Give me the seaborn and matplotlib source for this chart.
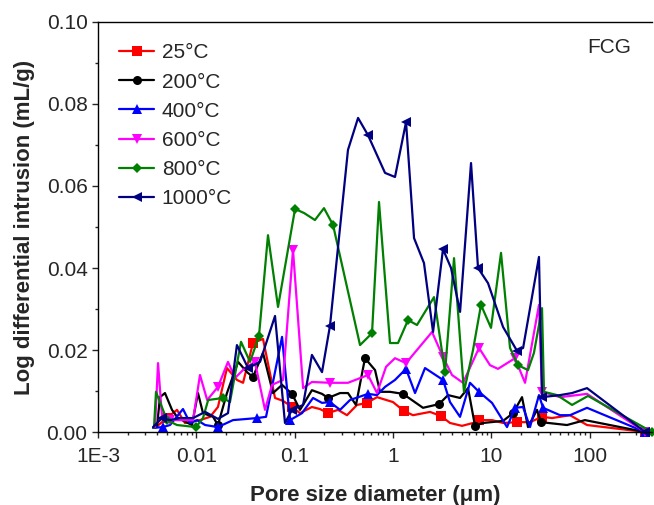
import matplotlib
matplotlib.use("Agg")
import matplotlib.pyplot as plt
import matplotlib.ticker as mticker
from matplotlib.lines import Line2D
import seaborn as sns

# Pore diameter (µm) and log differential intrusion (mL/g) for each firing temperature
d_25 = [0.0038, 0.00503, 0.00636, 0.00767, 0.0109, 0.0138, 0.0166, 0.0205, 0.0259, 0.0299,
        0.0377, 0.0477, 0.0632, 0.0762, 0.0941, 0.1135, 0.150, 0.181, 0.219, 0.276,
        0.341, 0.431, 0.545, 0.689, 1.002, 1.297, 1.601, 2.385, 3.084, 3.81,
        5.045, 6.53, 7.515, 10.19, 13.19, 18.3, 24.8, 32.87, 41.5, 63.3, 94.3, 367]
v_25 = [0.0010, 0.0034, 0.0054, 0.0022, 0.0029, 0.0037, 0.0061, 0.0156, 0.0127, 0.0120,
        0.0217, 0.0227, 0.0083, 0.0076, 0.0061, 0.0046, 0.0061, 0.0056, 0.0046, 0.0054,
        0.0041, 0.0066, 0.0071, 0.0085, 0.0073, 0.0051, 0.0041, 0.0049, 0.0039, 0.0022,
        0.0015, 0.0022, 0.0029, 0.0029, 0.0022, 0.0024, 0.0024, 0.0037, 0.0034, 0.0041, 0.0017, 0.0]

d_200 = [0.00398, 0.00427, 0.0048, 0.00566, 0.00651, 0.00904, 0.0104, 0.0117, 0.0148, 0.0166,
         0.0205, 0.0266, 0.0328, 0.0377, 0.0477, 0.0603, 0.0745, 0.0941, 0.1135, 0.150,
         0.190, 0.219, 0.290, 0.349, 0.421, 0.52, 0.658, 0.739, 0.934, 1.267,
         2.023, 2.944, 3.635, 4.815, 5.807, 6.84, 8.25, 13.19, 16.67, 20.57,
         23.67, 29.24, 32.1, 59.0, 89.9, 367]
v_200 = [0.0012, 0.0085, 0.0095, 0.0054, 0.0034, 0.0017, 0.0095, 0.0046, 0.0037, 0.0017,
         0.0095, 0.0171, 0.0146, 0.0134, 0.0193, 0.0095, 0.0115, 0.0093, 0.0054, 0.0102,
         0.0093, 0.0083, 0.0095, 0.0095, 0.0066, 0.0180, 0.0151, 0.0098, 0.0098, 0.0093,
         0.0059, 0.0068, 0.0090, 0.0083, 0.0107, 0.0015, 0.0022, 0.0027, 0.0046, 0.0085,
         0.0012, 0.0054, 0.0024, 0.0017, 0.0029, 0.0]

d_400 = [0.00363, 0.00458, 0.0054, 0.00732, 0.00863, 0.0102, 0.0123, 0.0166, 0.0236, 0.0415,
         0.0512, 0.0745, 0.0898, 0.119, 0.154, 0.190, 0.229, 0.290, 0.366, 0.558,
         0.689, 0.831, 1.05, 1.359, 1.679, 2.121, 3.234, 3.81, 4.815, 6.08,
         7.515, 10.19, 14.48, 17.46, 21.06, 24.8, 30.6, 33.65, 50.1, 63.3, 94.3, 367]
v_400 = [0.0010, 0.0012, 0.0017, 0.0056, 0.0022, 0.0029, 0.0017, 0.0012, 0.0029, 0.0034,
         0.0037, 0.0232, 0.0029, 0.0046, 0.0083, 0.0071, 0.0073, 0.0054, 0.0078, 0.0093,
         0.0090, 0.0110, 0.0127, 0.0154, 0.0095, 0.0156, 0.0127, 0.0073, 0.0037, 0.0120,
         0.0098, 0.0071, 0.0012, 0.0059, 0.0061, 0.0012, 0.0090, 0.0059, 0.0041, 0.0041, 0.0059, 0.0]

d_600 = [0.0038, 0.00408, 0.00448, 0.0054, 0.00732, 0.00926, 0.0109, 0.0129, 0.0166, 0.021,
         0.0248, 0.0313, 0.0395, 0.050, 0.0589, 0.0762, 0.0963, 0.122, 0.150, 0.229,
         0.349, 0.558, 0.689, 0.851, 1.05, 1.359, 2.50, 3.234, 3.99, 5.164,
         7.515, 9.72, 11.72, 17.46, 22.08, 30.6, 32.87, 50.1, 94.3, 367]
v_600 = [0.0012, 0.0168, 0.0037, 0.0029, 0.0029, 0.0029, 0.0139, 0.0078, 0.0110, 0.0171,
         0.0132, 0.0156, 0.0171, 0.0054, 0.0115, 0.0127, 0.0444, 0.0107, 0.0122, 0.0120,
         0.0120, 0.0139, 0.0095, 0.0159, 0.0180, 0.0168, 0.0244, 0.0183, 0.0139, 0.0120,
         0.0205, 0.0163, 0.0154, 0.0180, 0.0120, 0.0310, 0.0098, 0.0085, 0.0093, 0.0]

d_800 = [0.00371, 0.00389, 0.00503, 0.00636, 0.00993, 0.0117, 0.0132, 0.0187, 0.022, 0.0285,
         0.0352, 0.0434, 0.0536, 0.0678, 0.101, 0.125, 0.161, 0.199, 0.246, 0.463,
         0.613, 0.722, 0.934, 1.127, 1.424, 1.758, 2.618, 3.39, 4.184, 5.28,
         6.53, 7.87, 9.95, 12.58, 15.53, 18.73, 23.67, 27.2, 32.87, 34.4,
         46.7, 66.4, 96.5, 432]
v_800 = [0.0010, 0.0098, 0.0029, 0.0017, 0.0012, 0.0034, 0.0078, 0.0083, 0.0073, 0.0220,
         0.0171, 0.0234, 0.0480, 0.0305, 0.0544, 0.0534, 0.0517, 0.0546, 0.0505, 0.0212,
         0.0241, 0.0561, 0.0217, 0.0217, 0.0273, 0.0261, 0.0329, 0.0146, 0.0424, 0.0098,
         0.0200, 0.0310, 0.0254, 0.0437, 0.0205, 0.0163, 0.0151, 0.0193, 0.0302, 0.0098,
         0.0090, 0.0066, 0.0088, 0.0]

d_1000 = [0.00363, 0.00448, 0.0054, 0.00683, 0.00926, 0.0123, 0.0166, 0.021, 0.0259, 0.0336,
          0.0445, 0.0632, 0.0798, 0.0941, 0.122, 0.150, 0.190, 0.229, 0.349, 0.442,
          0.558, 0.831, 1.05, 1.36, 1.64, 2.07, 2.56, 3.23, 3.90, 4.82,
          6.23, 7.34, 9.28, 13.2, 18.3, 21.1, 30.6, 32.9, 50.1, 66.4, 94.3, 367]
v_1000 = [0.0012, 0.0034, 0.0029, 0.0034, 0.0034, 0.0049, 0.0032, 0.0046, 0.0212, 0.0156,
          0.0171, 0.0283, 0.0022, 0.0054, 0.0066, 0.0188, 0.0146, 0.0259, 0.0688, 0.0766,
          0.0724, 0.0632, 0.0622, 0.0756, 0.0473, 0.0412, 0.0244, 0.0446, 0.0400, 0.0293,
          0.0656, 0.0400, 0.0363, 0.0256, 0.0198, 0.0205, 0.0427, 0.0085, 0.0090, 0.0095, 0.0107, 0.0]

labels = ["25°C", "200°C", "400°C", "600°C", "800°C", "1000°C"]
x_tick_labels = ["1E-3", "0.01", "0.1", "1", "10", "100"]

series = [
    (d_25, v_25, "#FF0000", "s", [1, 10, 14, 18, 22, 25, 28, 32, 35, 37, 41]),
    (d_200, v_200, "#000000", "o", [9, 13, 17, 21, 25, 29, 31, 35, 38, 42, 45]),
    (d_400, v_400, "#0000FF", "^", [1, 7, 9, 12, 16, 19, 23, 26, 30, 33, 37, 41]),
    (d_600, v_600, "#FF00FF", "v", [3, 8, 12, 16, 19, 21, 25, 27, 30, 33, 36, 39]),
    (d_800, v_800, "#008000", "D", [2, 4, 7, 11, 14, 18, 20, 24, 27, 31, 35, 43]),
    (d_1000, v_1000, "#000080", "<", [1, 9, 13, 17, 20, 23, 27, 31, 34, 37, 41]),
]

sns.set_style("ticks")
plt.rcParams["font.family"] = ["Liberation Sans", "DejaVu Sans"]

fig = plt.figure(figsize=(6.54, 5.05), dpi=100)
ax = fig.add_axes([98 / 654, 73 / 505, 554 / 654, 410 / 505])

handles = []
for (d, v, color, mk, every), lab in zip(series, labels):
    ms = 5.5 if mk == "D" else 6.5
    sns.lineplot(x=d, y=v, ax=ax, color=color, marker=mk, markevery=every,
                 markersize=ms, markeredgewidth=0, linewidth=1.6,
                 sort=False, estimator=None, clip_on=False)
    handles.append(Line2D([], [], color=color, marker=mk, markersize=ms,
                          markeredgewidth=0, linewidth=1.6))

ax.set_xscale("log")
ax.set_xlim(1e-3, 432)
ax.set_ylim(0, 0.10)

ax.xaxis.set_major_locator(mticker.FixedLocator([1e-3, 1e-2, 1e-1, 1, 10, 100]))
ax.xaxis.set_major_formatter(mticker.FixedFormatter(x_tick_labels))
ax.xaxis.set_minor_locator(mticker.LogLocator(base=10, subs=range(2, 10), numticks=20))
ax.xaxis.set_minor_formatter(mticker.NullFormatter())
ax.yaxis.set_major_locator(mticker.MultipleLocator(0.02))
ax.yaxis.set_minor_locator(mticker.MultipleLocator(0.01))
ax.yaxis.set_major_formatter(mticker.FormatStrFormatter("%.2f"))

ax.tick_params(which="major", direction="out", length=4.5, width=1.0,
               labelsize=15, top=False, right=False)
ax.tick_params(axis="x", which="major", pad=6)
ax.tick_params(axis="y", which="major", pad=3)
ax.tick_params(which="minor", direction="out", length=2.5, width=1.0,
               top=False, right=False)

for side in ["left", "bottom", "top"]:
    ax.spines[side].set_visible(True)
    ax.spines[side].set_linewidth(1.0)
    ax.spines[side].set_color("black")
ax.spines["right"].set_visible(False)

ax.set_xlabel("Pore size diameter (μm)", fontsize=16, fontweight="bold", labelpad=14)
ax.set_ylabel("Log differential intrusion (mL/g)", fontsize=16, fontweight="bold", labelpad=8)

ax.text(0.922, 0.939, "FCG", transform=ax.transAxes, fontsize=15,
        ha="center", va="center")

ax.legend(handles, labels, loc="upper left", bbox_to_anchor=(0.038, 0.948),
          frameon=False, fontsize=15, handlelength=1.7, handletextpad=0.35,
          labelspacing=0.49, borderpad=0.0, borderaxespad=0.0)

fig.savefig("out.png", dpi=100)
